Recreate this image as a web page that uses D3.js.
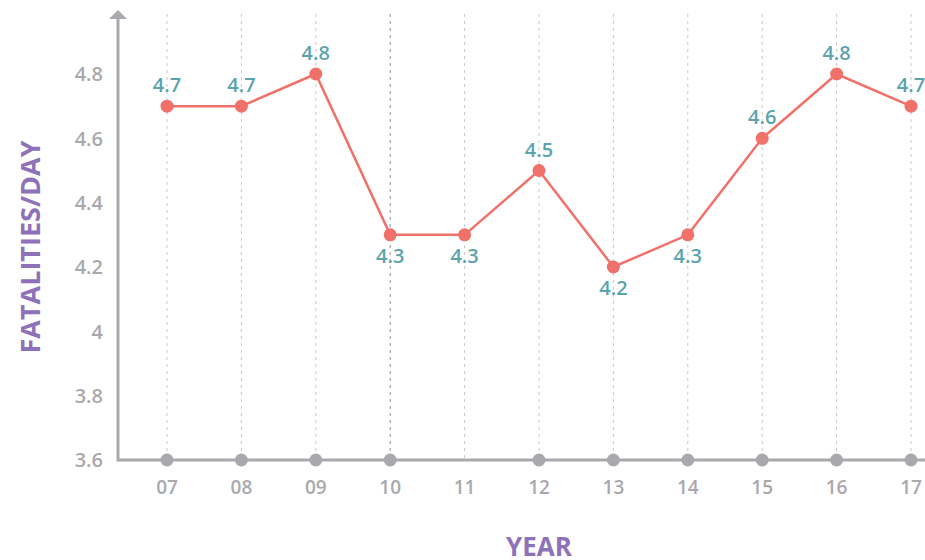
<!DOCTYPE html>
<html>
<head>
<meta charset="utf-8">
<script src="https://d3js.org/d3.v7.min.js"></script>
<style>
  body { margin: 0; background: #fff; }
  svg text { font-family: "Open Sans", sans-serif; }
</style>
</head>
<body>
<div id="chart"></div>
<script>
const years = ["07", "08", "09", "10", "11", "12", "13", "14", "15", "16", "17"];
const fatalities = [4.7, 4.7, 4.8, 4.3, 4.3, 4.5, 4.2, 4.3, 4.6, 4.8, 4.7];
const yTicks = [3.6, 3.8, 4, 4.2, 4.4, 4.6, 4.8];

const width = 925, height = 560;
const svg = d3.select("#chart").append("svg")
  .attr("width", width)
  .attr("height", height);

const x = d3.scalePoint().domain(years).range([167, 911]);
const y = d3.scaleLinear().domain([3.6, 4.8]).range([460, 74]);

const grey = "#a9a9ad";

// vertical dashed grid lines
svg.append("g").selectAll("line")
  .data(years)
  .join("line")
  .attr("x1", d => x(d)).attr("x2", d => x(d))
  .attr("y1", 14).attr("y2", 460)
  .attr("stroke", d => d === "10" ? "#8f8f93" : "#c8c8cc")
  .attr("stroke-width", 1)
  .attr("stroke-dasharray", "3,4");

// x axis baseline
svg.append("line")
  .attr("x1", 118).attr("x2", width)
  .attr("y1", y(3.6)).attr("y2", y(3.6))
  .attr("stroke", grey).attr("stroke-width", 3);

// y axis with arrow
svg.append("line")
  .attr("x1", 118).attr("x2", 118)
  .attr("y1", 18).attr("y2", y(3.6) + 1.5)
  .attr("stroke", grey).attr("stroke-width", 3);
svg.append("path")
  .attr("d", "M109,19 L118,10 L127,19 Z")
  .attr("fill", grey);

// y tick labels
svg.append("g").selectAll("text")
  .data(yTicks)
  .join("text")
  .attr("x", 103)
  .attr("y", d => y(d))
  .attr("dy", "0.36em")
  .attr("text-anchor", "end")
  .attr("font-size", 20)
  .attr("font-weight", 600)
  .attr("fill", grey)
  .text(d => d);

// x tick labels
svg.append("g").selectAll("text")
  .data(years)
  .join("text")
  .attr("x", d => x(d))
  .attr("y", 494)
  .attr("text-anchor", "middle")
  .attr("font-size", 19)
  .attr("font-weight", 600)
  .attr("fill", grey)
  .text(d => d);

// grey markers on baseline
svg.append("g").selectAll("circle")
  .data(years.filter(d => d !== "11"))
  .join("circle")
  .attr("cx", d => x(d))
  .attr("cy", y(3.6))
  .attr("r", 6.5)
  .attr("fill", grey);

// data line
const line = d3.line()
  .x((d, i) => x(years[i]))
  .y(d => y(d));

svg.append("path")
  .attr("d", line(fatalities))
  .attr("fill", "none")
  .attr("stroke", "#f0706a")
  .attr("stroke-width", 2.5);

svg.append("g").selectAll("circle")
  .data(fatalities)
  .join("circle")
  .attr("cx", (d, i) => x(years[i]))
  .attr("cy", d => y(d))
  .attr("r", 6.5)
  .attr("fill", "#f0706a");

// value labels
svg.append("g").selectAll("text")
  .data(fatalities)
  .join("text")
  .attr("x", (d, i) => x(years[i]))
  .attr("y", d => d <= 4.3 ? y(d) + 28 : y(d) - 14)
  .attr("text-anchor", "middle")
  .attr("font-size", 20)
  .attr("font-weight", 600)
  .attr("fill", "#5ba4ae")
  .text(d => d);

// axis titles
svg.append("text")
  .attr("transform", "translate(40,247) rotate(-90)")
  .attr("text-anchor", "middle")
  .attr("font-size", 27)
  .attr("font-weight", 700)
  .attr("fill", "#8e72b9")
  .text("FATALITIES/DAY");

svg.append("text")
  .attr("x", 539)
  .attr("y", 556)
  .attr("text-anchor", "middle")
  .attr("font-size", 26)
  .attr("font-weight", 700)
  .attr("fill", "#8e72b9")
  .text("YEAR");
</script>
</body>
</html>
